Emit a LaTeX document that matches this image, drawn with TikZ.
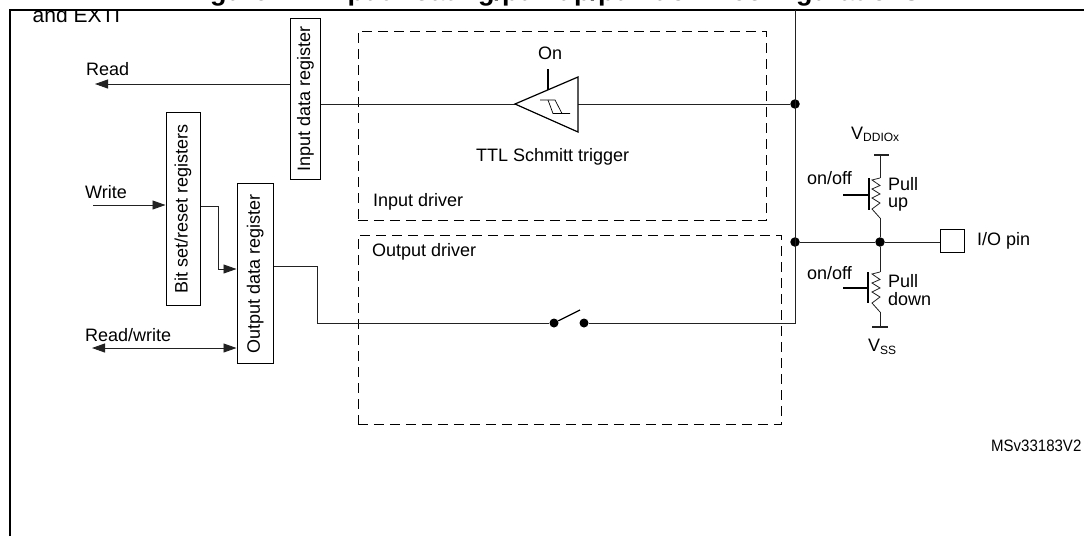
\documentclass[tikz,border=0pt]{standalone}
\usepackage{fontspec}
\setmainfont{Liberation Sans}
\usetikzlibrary{arrows.meta}
\definecolor{wire}{HTML}{222222}
\tikzset{
  wireline/.style={draw=wire,line width=0.9pt},
  heavy/.style={draw=black,line width=1.9pt},
  regbox/.style={draw=black,line width=1.1pt,inner sep=0pt,fill=white,font=\fontsize{18}{18}\selectfont},
  lbl/.style={inner sep=0pt,anchor=base west,font=\fontsize{18}{18}\selectfont},
  dashbox/.style={draw=black,line width=0.8pt,dash pattern=on 10pt off 6pt},
  dotmark/.style={circle,fill=black,inner sep=0pt,minimum size=#1},
  tip/.style={-{Triangle[length=13pt,width=9pt]}},
  tips/.style={{Triangle[length=13pt,width=9pt]}-{Triangle[length=13pt,width=9pt]}},
}
\newcommand{\zigzagres}[2]{% from the top coordinate #1 to the bottom coordinate #2
  \draw[draw=wire,line width=0.8pt,line join=miter] (#1) -- ++(-8,2) -- ++(8,5.5) -- ++(-8,3.5) -- ++(8,5) -- ++(-8,4) -- ++(8,5) -- ++(-8,6) -- (#2);
}
\begin{document}
\begin{tikzpicture}[x=1pt,y=-1pt]
\useasboundingbox (0,0) rectangle (1084,536);
% clipped title
\node[inner sep=0pt,anchor=base west,font=\fontsize{27}{27}\selectfont\bfseries] (title) at (186,0.5) {Figure 21. Input floating/pull up/pull down configurations};
\begin{scope}
\clip (0,10) rectangle (1084,536);
\node[inner sep=0pt,anchor=base west,font=\fontsize{21}{21}\selectfont] (exti) at (32.5,22) {and EXTI};
\end{scope}
% frame
\coordinate (fa) at (10,536); \coordinate (fb) at (10,10); \coordinate (fc) at (1084,10);
\draw[heavy] (fa) -- (fb) -- (fc);
% dashed driver boxes
\node[dashbox,minimum width=408.5pt,minimum height=189pt,anchor=north west,inner sep=0pt] (indrv) at (357.5,31) {};
\node[dashbox,minimum width=423.5pt,minimum height=189pt,anchor=north west,inner sep=0pt] (outdrv) at (357.5,235) {};
\node[lbl] (indrvt) at (373,206) {Input driver};
\node[lbl] (outdrvt) at (372,256) {Output driver};
% registers
\node[regbox,minimum width=30pt,minimum height=161pt,anchor=north west] (idr) at (290,18) {\rotatebox{90}{Input data register}};
\node[regbox,minimum width=34pt,minimum height=193pt,anchor=north west] (bsr) at (165.5,112) {\rotatebox{90}{Bit set/reset registers}};
\node[regbox,minimum width=36.5pt,minimum height=180pt,anchor=north west] (odr) at (236.5,183) {\rotatebox{90}{Output data register}};
% left labels
\node[lbl] (tread) at (86,75) {Read};
\node[lbl] (twrite) at (85,198) {Write};
\node[lbl] (trw) at (85,341) {Read/write};
% coordinates
\coordinate (rd) at (95,84);
\coordinate (wr) at (93,205);
\coordinate (rw) at (92,348);
\coordinate (bend1) at (218,206);
\coordinate (bend2) at (218,269);
\coordinate (bend3) at (317,266);
\coordinate (bend4) at (317,323);
\coordinate (trtip) at (515,104);
\coordinate (trtop) at (578,77);
\coordinate (trbot) at (578,132);
\coordinate (trout) at (578,104);
\coordinate (busT) at (795,10);
\coordinate (busB) at (795,323);
\node[dotmark=9.5pt] (j1) at (795,104) {};
\node[dotmark=9.5pt] (j2) at (795,242) {};
\node[dotmark=9.5pt] (j3) at (880,242) {};
\node[dotmark=9pt] (s1) at (554,323) {};
\node[dotmark=9pt] (s2) at (584,323) {};
\coordinate (lev) at (580,310);
% arrows
\draw[wireline,tip] (idr.west |- rd) -- (rd);
\draw[wireline,tip] (wr) -- (wr -| bsr.west);
\draw[wireline] (bsr.east |- bend1) -- (bend1) -- (bend2);
\draw[wireline,tip] (bend2) -- (bend2 -| odr.west);
\draw[wireline,tips] (rw) -- (rw -| odr.west);
% wires
\draw[wireline] (idr.east |- trtip) -- (trtip);
\draw[wireline] (trout) -- (j1);
\draw[wireline] (odr.east |- bend3) -- (bend3) -- (bend4) -- (s1);
\draw[wireline] (s2) -- (busB) -- (busT);
\draw[line width=1.2pt] (s1) -- (lev);
\draw[wireline] (j2) -- (j3);
% Schmitt trigger
\draw[line width=1.2pt,line join=miter,fill=white] (trtip) -- (trtop) -- (trbot) -- cycle;
\coordinate (onb) at (548,90); \coordinate (ont) at (548,69);
\draw[heavy] (onb) -- (ont);
\coordinate (sa) at (540,100); \coordinate (sb) at (555,100); \coordinate (sc) at (548,100);
\coordinate (sd) at (553,113.5); \coordinate (se) at (562,113.5); \coordinate (sf) at (570,113.5);
\draw[line width=0.7pt] (sa) -- (sb) -- (se);
\draw[line width=0.7pt] (sc) -- (sd) -- (sf);
\node[lbl] (ton) at (538,59) {On};
\node[lbl] (ttl) at (476,161) {TTL Schmitt trigger};
% I/O pin
\node[draw=black,line width=1.1pt,minimum width=24pt,minimum height=23pt,inner sep=0pt,anchor=north west] (pin) at (940,229) {};
\draw[wireline] (j3) -- (pin.west |- j3);
\node[lbl] (tpin) at (977,245) {I/O pin};
% pull up
\coordinate (vb) at (880,155); \coordinate (va) at (874,155); \coordinate (vc) at (889,155);
\coordinate (pu1) at (880,178); \coordinate (pu2) at (880,218);
\draw[wireline,line width=1.1pt] (va) -- (vc);
\draw[wireline] (vb) -- (pu1);
\zigzagres{pu1}{pu2}
\draw[wireline] (pu2) -- (j3);
\coordinate (gu1) at (869,178); \coordinate (gu2) at (869,210); \coordinate (gu3) at (843,195); \coordinate (gu4) at (869,195);
\draw[heavy] (gu1) -- (gu2); \draw[heavy] (gu3) -- (gu4);
\node[lbl] (onoff1) at (807,184) {on/off};
\node[lbl] (pull1) at (888,190) {Pull};
\node[lbl] (up) at (888,207) {up};
% pull down
\coordinate (pd1) at (880,272); \coordinate (pd2) at (880,312);
\coordinate (gb) at (880,327); \coordinate (ga) at (872,327); \coordinate (gc) at (888,327);
\draw[wireline] (j3) -- (pd1);
\zigzagres{pd1}{pd2}
\draw[wireline] (pd2) -- (gb);
\draw[wireline,line width=1.1pt] (ga) -- (gc);
\coordinate (gd1) at (868,272); \coordinate (gd2) at (868,303); \coordinate (gd3) at (843,288); \coordinate (gd4) at (868,288);
\draw[heavy] (gd1) -- (gd2); \draw[heavy] (gd3) -- (gd4);
\node[lbl] (onoff2) at (807,279) {on/off};
\node[lbl] (pull2) at (888,287) {Pull};
\node[lbl] (down) at (888,305) {down};
% supply labels
\node[lbl] (vdd) at (851,139) {V\raisebox{-2.5pt}{\fontsize{12}{12}\selectfont DDIOx}};
\node[lbl] (vss) at (868,351) {V\raisebox{-3pt}{\fontsize{12}{12}\selectfont SS}};
\node[inner sep=0pt,anchor=base west,font=\fontsize{16.5}{16.5}\selectfont] (ref) at (991,451) {\scalebox{0.91}[1]{MSv33183V2}};
\end{tikzpicture}
\end{document}
